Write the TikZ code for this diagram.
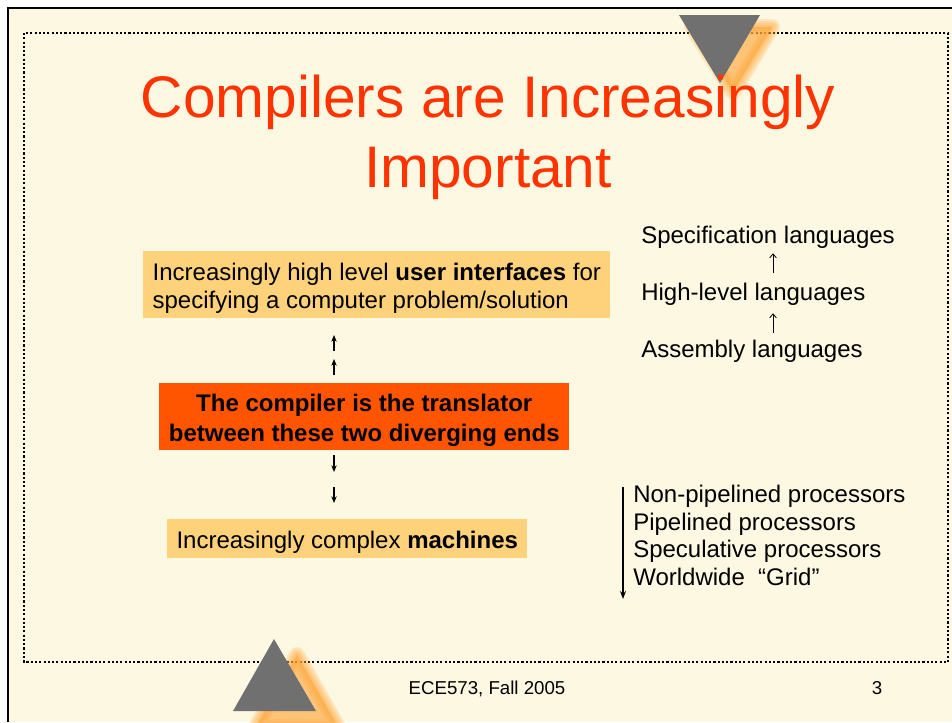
\documentclass[tikz,border=0pt]{standalone}
\usepackage{fontspec}
\setmainfont{Liberation Sans}
\usetikzlibrary{arrows.meta}
\definecolor{bg}{RGB}{253,248,226}
\definecolor{titlered}{RGB}{255,51,0}
\definecolor{boxorange}{RGB}{254,210,122}
\definecolor{boxred}{RGB}{255,85,0}
\definecolor{trigray}{RGB}{112,112,112}
\definecolor{shadoworange}{RGB}{255,168,60}
\newcommand{\topstrut}{\rule{0pt}{18pt}}
\tikzset{
  body/.style={font=\fontsize{18}{21}\selectfont, text=black},
  titletext/.style={font=\fontsize{44}{52}\selectfont, text=titlered, inner sep=0pt},
  listtext/.style={body, anchor=base west, inner sep=0pt},
  slidebox/.style={body, inner sep=0pt},
  smallarrow/.style={line width=0.8pt, -{Stealth[length=5pt,width=4pt]}},
  glypharrow/.style={line width=0.6pt, -{Straight Barb[length=3pt,width=5pt]}},
  shadowtri/.style={fill=shadoworange, draw=shadoworange, fill opacity=0.22, draw opacity=0.22, line join=round},
  footer/.style={font=\fontsize{14}{16}\selectfont, anchor=base, inner sep=0pt}
}
\begin{document}
\begin{tikzpicture}[x=0.75pt,y=-0.75pt]
\useasboundingbox (0,0) rectangle (952,722);
\fill[white] (0,0) rectangle (952,722);
\fill[bg] (8,8) rectangle (952,722);
\draw[line width=1.3pt] (8,722) -- (8,8) -- (952,8);
% dotted frame
\draw[line width=1.6pt, dash pattern=on 1.6pt off 1.6pt] (24,33) rectangle (948,662);

% top triangle shadow and triangle
\foreach \w in {16,12,8,4}{
  \path[shadowtri, line width=\w*0.75pt] (692,27) -- (772,27) -- (733,92) -- cycle;
}
\fill[trigray] (679,15) -- (760,15) -- (720,83) -- cycle;

% bottom triangle shadow and triangle
\foreach \w in {16,12,8,4}{
  \path[shadowtri, line width=\w*0.75pt] (297,655) -- (338,727) -- (256,727) -- cycle;
}
\fill[trigray] (274,639) -- (316,711) -- (233,711) -- cycle;

% title
\node[titletext, anchor=base] (t1) at (488,117) {Compilers are Increasingly};
\node[titletext, anchor=base] (t2) at (488,187) {Important};

% boxes
\node[slidebox, fill=boxorange, align=left, minimum width=350.25pt, minimum height=50.25pt, anchor=north west]
  (ui) at (143,251) {\topstrut Increasingly high level \textbf{user interfaces} for\\specifying a computer problem/solution};
\node[slidebox, fill=boxred, align=center, font=\fontsize{18}{22.5}\selectfont\bfseries, minimum width=307.5pt, minimum height=50.25pt, anchor=north west]
  (comp) at (159,383) {\topstrut The compiler is the translator\\between these two diverging ends};
\node[slidebox, fill=boxorange, minimum width=270pt, minimum height=29.25pt, anchor=north west]
  (mach) at (167,519) {\topstrut Increasingly complex \textbf{machines}};

% small arrows
\coordinate (u1a) at (334,351); \coordinate (u1b) at (334,335);
\coordinate (u2a) at (334,375); \coordinate (u2b) at (334,359);
\coordinate (d1a) at (334,455); \coordinate (d1b) at (334,472);
\coordinate (d2a) at (334,487); \coordinate (d2b) at (334,503);
\draw[smallarrow] (u1a) -- (u1b);
\draw[smallarrow] (u2a) -- (u2b);
\draw[smallarrow] (d1a) -- (d1b);
\draw[smallarrow] (d2a) -- (d2b);

% language list
\node[listtext] (spec) at (641,243) {Specification languages};
\node[listtext] (hl) at (641,300) {High-level languages};
\node[listtext] (asm) at (641,357) {Assembly languages};
\coordinate (ax) at (773,0);
\draw[glypharrow] ([yshift=7pt]hl.north -| ax) -- ([yshift=-3.75pt]spec.south -| ax);
\draw[glypharrow] ([yshift=5pt]asm.north -| ax) -- ([yshift=-6pt]hl.south -| ax);

% processor list
\node[listtext] (np) at (633,502) {Non-pipelined processors};
\node[listtext] (pp) at (633,530) {Pipelined processors};
\node[listtext] (sp) at (633,557) {Speculative processors};
\node[listtext] (ww) at (633,585) {Worldwide\ \ “Grid”};
\coordinate (pa) at (623,487); \coordinate (pb) at (623,599);
\draw[line width=1pt, -{Stealth[length=6pt,width=4.5pt]}] (pa) -- (pb);

% footer
\node[footer] (foot) at (487,694) {ECE573, Fall 2005};
\node[footer] (num) at (877,694) {3};
\end{tikzpicture}
\end{document}
